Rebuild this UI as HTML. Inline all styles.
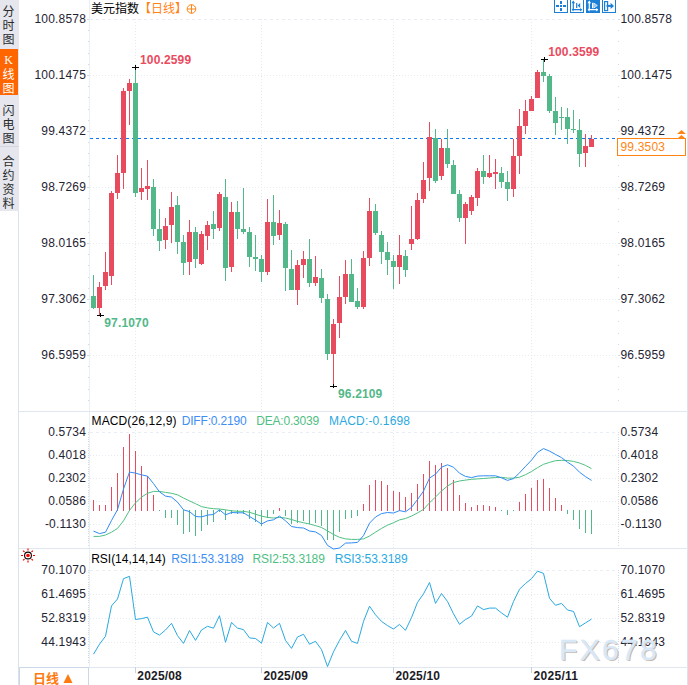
<!DOCTYPE html><html><head><meta charset="utf-8"><title>美元指数</title><style>
html,body{margin:0;padding:0;background:#fff}
body{width:688px;height:685px;overflow:hidden;position:relative;font-family:"Liberation Sans","Noto Sans CJK SC",sans-serif}
svg{position:absolute;left:0;top:0}
svg text{font-family:"Liberation Sans","Noto Sans CJK SC",sans-serif;font-size:12px}.ax{letter-spacing:0.18px}.bx{letter-spacing:0.15px}
.side{position:absolute;left:0;top:0;width:19px;height:211px;background:#e5e6ee}
.tab{position:absolute;left:0;width:17px;text-align:center;font-size:12px;line-height:14px;color:#2a2a2a;font-family:"Noto Sans CJK SC","Liberation Sans",sans-serif;font-weight:400}
.tab span{display:block}
</style></head><body>
<div class="side"></div>
<div class="tab" style="top:0;height:48px;padding-top:4px;box-sizing:border-box"><span>分</span><span>时</span><span>图</span></div>
<div class="tab" style="top:49px;height:46px;width:18px;background:#ff6600;color:#fff;padding-top:4px;padding-right:1px;box-sizing:border-box"><span style="font-family:'Liberation Serif',serif;font-size:12px">K</span><span>线</span><span>图</span></div>
<div class="tab" style="top:95px;height:52px;width:19px;padding-right:2px;padding-top:7.5px;box-sizing:border-box;border-bottom:1px solid #d4d6de"><span>闪</span><span>电</span><span>图</span></div>
<div class="tab" style="top:148px;height:63px;padding-top:6px;box-sizing:border-box"><span>合</span><span>约</span><span>资</span><span>料</span></div>
<svg width="688" height="685" viewBox="0 0 688 685">
<g shape-rendering="crispEdges">
<rect x="18" y="211" width="1" height="474" fill="#d9e2ed"/>
<rect x="687" y="0" width="1" height="685" fill="#d9e2ed"/>
<rect x="89" y="0" width="1" height="667" fill="#eaeef5"/>
<rect x="19" y="411" width="669" height="1" fill="#e0e7f0"/>
<rect x="19" y="548" width="669" height="1" fill="#e0e7f0"/>
<rect x="19" y="667" width="669" height="1" fill="#e0e7f0"/>
<rect x="19.5" y="667.5" width="69" height="20" fill="#fff" stroke="#c9d7e6"/>
<line x1="90" x2="617" y1="19.5" y2="19.5" stroke="#e9eef4" stroke-dasharray="3 3"/>
<line x1="90" x2="617" y1="75.5" y2="75.5" stroke="#e6ebf1" stroke-dasharray="1 2"/>
<line x1="90" x2="617" y1="131.5" y2="131.5" stroke="#e6ebf1" stroke-dasharray="1 2"/>
<line x1="90" x2="617" y1="187.5" y2="187.5" stroke="#e6ebf1" stroke-dasharray="1 2"/>
<line x1="90" x2="617" y1="243.5" y2="243.5" stroke="#e6ebf1" stroke-dasharray="1 2"/>
<line x1="90" x2="617" y1="299.5" y2="299.5" stroke="#e6ebf1" stroke-dasharray="1 2"/>
<line x1="90" x2="617" y1="355.5" y2="355.5" stroke="#e6ebf1" stroke-dasharray="1 2"/>
<line x1="90" x2="617" y1="432.5" y2="432.5" stroke="#e9eef4" stroke-dasharray="3 3"/>
<line x1="90" x2="617" y1="455.5" y2="455.5" stroke="#e6ebf1" stroke-dasharray="1 2"/>
<line x1="90" x2="617" y1="478.5" y2="478.5" stroke="#e6ebf1" stroke-dasharray="1 2"/>
<line x1="90" x2="617" y1="501.5" y2="501.5" stroke="#e6ebf1" stroke-dasharray="1 2"/>
<line x1="90" x2="617" y1="524.5" y2="524.5" stroke="#e6ebf1" stroke-dasharray="1 2"/>
<line x1="90" x2="617" y1="570.5" y2="570.5" stroke="#e9eef4" stroke-dasharray="3 3"/>
<line x1="90" x2="617" y1="594.5" y2="594.5" stroke="#e6ebf1" stroke-dasharray="1 2"/>
<line x1="90" x2="617" y1="618.5" y2="618.5" stroke="#e6ebf1" stroke-dasharray="1 2"/>
<line x1="90" x2="617" y1="642.5" y2="642.5" stroke="#e6ebf1" stroke-dasharray="1 2"/>
<line x1="135.5" x2="135.5" y1="19" y2="667" stroke="#e6ebf1" stroke-dasharray="1 2"/>
<rect x="135" y="667" width="1" height="6" fill="#c5d2e0"/>
<line x1="261.5" x2="261.5" y1="19" y2="667" stroke="#e6ebf1" stroke-dasharray="1 2"/>
<rect x="261" y="667" width="1" height="6" fill="#c5d2e0"/>
<line x1="393.5" x2="393.5" y1="19" y2="667" stroke="#e6ebf1" stroke-dasharray="1 2"/>
<rect x="393" y="667" width="1" height="6" fill="#c5d2e0"/>
<line x1="531.5" x2="531.5" y1="19" y2="667" stroke="#e6ebf1" stroke-dasharray="1 2"/>
<rect x="531" y="667" width="1" height="6" fill="#c5d2e0"/>
<rect x="88" y="19" width="1" height="1" fill="#d2d9e4"/>
<rect x="618" y="19" width="1" height="1" fill="#d2d9e4"/>
<rect x="88" y="30" width="1" height="1" fill="#d2d9e4"/>
<rect x="618" y="30" width="1" height="1" fill="#d2d9e4"/>
<rect x="88" y="41" width="1" height="1" fill="#d2d9e4"/>
<rect x="618" y="41" width="1" height="1" fill="#d2d9e4"/>
<rect x="88" y="53" width="1" height="1" fill="#d2d9e4"/>
<rect x="618" y="53" width="1" height="1" fill="#d2d9e4"/>
<rect x="88" y="64" width="1" height="1" fill="#d2d9e4"/>
<rect x="618" y="64" width="1" height="1" fill="#d2d9e4"/>
<rect x="88" y="75" width="1" height="1" fill="#d2d9e4"/>
<rect x="618" y="75" width="1" height="1" fill="#d2d9e4"/>
<rect x="88" y="86" width="1" height="1" fill="#d2d9e4"/>
<rect x="618" y="86" width="1" height="1" fill="#d2d9e4"/>
<rect x="88" y="97" width="1" height="1" fill="#d2d9e4"/>
<rect x="618" y="97" width="1" height="1" fill="#d2d9e4"/>
<rect x="88" y="109" width="1" height="1" fill="#d2d9e4"/>
<rect x="618" y="109" width="1" height="1" fill="#d2d9e4"/>
<rect x="88" y="120" width="1" height="1" fill="#d2d9e4"/>
<rect x="618" y="120" width="1" height="1" fill="#d2d9e4"/>
<rect x="88" y="131" width="1" height="1" fill="#d2d9e4"/>
<rect x="618" y="131" width="1" height="1" fill="#d2d9e4"/>
<rect x="88" y="142" width="1" height="1" fill="#d2d9e4"/>
<rect x="618" y="142" width="1" height="1" fill="#d2d9e4"/>
<rect x="88" y="153" width="1" height="1" fill="#d2d9e4"/>
<rect x="618" y="153" width="1" height="1" fill="#d2d9e4"/>
<rect x="88" y="165" width="1" height="1" fill="#d2d9e4"/>
<rect x="618" y="165" width="1" height="1" fill="#d2d9e4"/>
<rect x="88" y="176" width="1" height="1" fill="#d2d9e4"/>
<rect x="618" y="176" width="1" height="1" fill="#d2d9e4"/>
<rect x="88" y="187" width="1" height="1" fill="#d2d9e4"/>
<rect x="618" y="187" width="1" height="1" fill="#d2d9e4"/>
<rect x="88" y="198" width="1" height="1" fill="#d2d9e4"/>
<rect x="618" y="198" width="1" height="1" fill="#d2d9e4"/>
<rect x="88" y="209" width="1" height="1" fill="#d2d9e4"/>
<rect x="618" y="209" width="1" height="1" fill="#d2d9e4"/>
<rect x="88" y="221" width="1" height="1" fill="#d2d9e4"/>
<rect x="618" y="221" width="1" height="1" fill="#d2d9e4"/>
<rect x="88" y="232" width="1" height="1" fill="#d2d9e4"/>
<rect x="618" y="232" width="1" height="1" fill="#d2d9e4"/>
<rect x="88" y="243" width="1" height="1" fill="#d2d9e4"/>
<rect x="618" y="243" width="1" height="1" fill="#d2d9e4"/>
<rect x="88" y="254" width="1" height="1" fill="#d2d9e4"/>
<rect x="618" y="254" width="1" height="1" fill="#d2d9e4"/>
<rect x="88" y="265" width="1" height="1" fill="#d2d9e4"/>
<rect x="618" y="265" width="1" height="1" fill="#d2d9e4"/>
<rect x="88" y="277" width="1" height="1" fill="#d2d9e4"/>
<rect x="618" y="277" width="1" height="1" fill="#d2d9e4"/>
<rect x="88" y="288" width="1" height="1" fill="#d2d9e4"/>
<rect x="618" y="288" width="1" height="1" fill="#d2d9e4"/>
<rect x="88" y="299" width="1" height="1" fill="#d2d9e4"/>
<rect x="618" y="299" width="1" height="1" fill="#d2d9e4"/>
<rect x="88" y="310" width="1" height="1" fill="#d2d9e4"/>
<rect x="618" y="310" width="1" height="1" fill="#d2d9e4"/>
<rect x="88" y="321" width="1" height="1" fill="#d2d9e4"/>
<rect x="618" y="321" width="1" height="1" fill="#d2d9e4"/>
<rect x="88" y="333" width="1" height="1" fill="#d2d9e4"/>
<rect x="618" y="333" width="1" height="1" fill="#d2d9e4"/>
<rect x="88" y="344" width="1" height="1" fill="#d2d9e4"/>
<rect x="618" y="344" width="1" height="1" fill="#d2d9e4"/>
<rect x="88" y="355" width="1" height="1" fill="#d2d9e4"/>
<rect x="618" y="355" width="1" height="1" fill="#d2d9e4"/>
<rect x="88" y="366" width="1" height="1" fill="#d2d9e4"/>
<rect x="618" y="366" width="1" height="1" fill="#d2d9e4"/>
<rect x="88" y="377" width="1" height="1" fill="#d2d9e4"/>
<rect x="618" y="377" width="1" height="1" fill="#d2d9e4"/>
<rect x="88" y="389" width="1" height="1" fill="#d2d9e4"/>
<rect x="618" y="389" width="1" height="1" fill="#d2d9e4"/>
<rect x="88" y="400" width="1" height="1" fill="#d2d9e4"/>
<rect x="618" y="400" width="1" height="1" fill="#d2d9e4"/>
<rect x="87" y="19" width="2" height="1" fill="#d2d9e4"/>
<rect x="618" y="19" width="2" height="1" fill="#d2d9e4"/>
<rect x="87" y="75" width="2" height="1" fill="#d2d9e4"/>
<rect x="618" y="75" width="2" height="1" fill="#d2d9e4"/>
<rect x="87" y="131" width="2" height="1" fill="#d2d9e4"/>
<rect x="618" y="131" width="2" height="1" fill="#d2d9e4"/>
<rect x="87" y="187" width="2" height="1" fill="#d2d9e4"/>
<rect x="618" y="187" width="2" height="1" fill="#d2d9e4"/>
<rect x="87" y="243" width="2" height="1" fill="#d2d9e4"/>
<rect x="618" y="243" width="2" height="1" fill="#d2d9e4"/>
<rect x="87" y="299" width="2" height="1" fill="#d2d9e4"/>
<rect x="618" y="299" width="2" height="1" fill="#d2d9e4"/>
<rect x="87" y="355" width="2" height="1" fill="#d2d9e4"/>
<rect x="618" y="355" width="2" height="1" fill="#d2d9e4"/>
<line x1="88.5" x2="88.5" y1="432" y2="546" stroke="#d2d9e4" stroke-dasharray="1 1.3"/>
<line x1="618.5" x2="618.5" y1="432" y2="546" stroke="#d2d9e4" stroke-dasharray="1 1.3"/>
<line x1="88.5" x2="88.5" y1="570" y2="664" stroke="#d2d9e4" stroke-dasharray="1 1.3"/>
<line x1="618.5" x2="618.5" y1="570" y2="664" stroke="#d2d9e4" stroke-dasharray="1 1.3"/>
</g>
<line x1="90" x2="616" y1="138.5" y2="138.5" stroke="#0e79f2" stroke-dasharray="3 3" shape-rendering="crispEdges"/>
<g shape-rendering="crispEdges">
<rect x="93" y="275" width="1" height="34" fill="#53b889"/>
<rect x="91" y="296" width="5" height="12" fill="#53b889"/>
<rect x="99" y="282" width="1" height="34" fill="#e94b5e"/>
<rect x="97" y="287" width="5" height="21" fill="#e94b5e"/>
<rect x="105" y="252" width="1" height="38" fill="#e94b5e"/>
<rect x="103" y="272" width="5" height="14" fill="#e94b5e"/>
<rect x="111" y="191" width="1" height="94" fill="#e94b5e"/>
<rect x="109" y="193" width="5" height="83" fill="#e94b5e"/>
<rect x="117" y="155" width="1" height="44" fill="#e94b5e"/>
<rect x="115" y="173" width="5" height="20" fill="#e94b5e"/>
<rect x="123" y="88" width="1" height="101" fill="#e94b5e"/>
<rect x="121" y="91" width="5" height="82" fill="#e94b5e"/>
<rect x="129" y="79" width="1" height="46" fill="#e94b5e"/>
<rect x="127" y="83" width="5" height="8" fill="#e94b5e"/>
<rect x="135" y="67" width="1" height="130" fill="#53b889"/>
<rect x="133" y="83" width="5" height="110" fill="#53b889"/>
<rect x="141" y="168" width="1" height="32" fill="#e94b5e"/>
<rect x="139" y="188" width="5" height="4" fill="#e94b5e"/>
<rect x="147" y="160" width="1" height="40" fill="#e94b5e"/>
<rect x="145" y="186" width="5" height="3" fill="#e94b5e"/>
<rect x="153" y="179" width="1" height="57" fill="#53b889"/>
<rect x="151" y="187" width="5" height="42" fill="#53b889"/>
<rect x="159" y="209" width="1" height="42" fill="#53b889"/>
<rect x="157" y="229" width="5" height="12" fill="#53b889"/>
<rect x="165" y="218" width="1" height="31" fill="#e94b5e"/>
<rect x="163" y="226" width="5" height="14" fill="#e94b5e"/>
<rect x="171" y="192" width="1" height="51" fill="#e94b5e"/>
<rect x="169" y="207" width="5" height="18" fill="#e94b5e"/>
<rect x="177" y="196" width="1" height="58" fill="#53b889"/>
<rect x="175" y="205" width="5" height="37" fill="#53b889"/>
<rect x="183" y="235" width="1" height="40" fill="#53b889"/>
<rect x="181" y="242" width="5" height="21" fill="#53b889"/>
<rect x="189" y="220" width="1" height="55" fill="#e94b5e"/>
<rect x="187" y="232" width="5" height="30" fill="#e94b5e"/>
<rect x="195" y="227" width="1" height="41" fill="#53b889"/>
<rect x="193" y="232" width="5" height="27" fill="#53b889"/>
<rect x="201" y="231" width="1" height="34" fill="#e94b5e"/>
<rect x="199" y="234" width="5" height="30" fill="#e94b5e"/>
<rect x="207" y="221" width="1" height="29" fill="#e94b5e"/>
<rect x="205" y="225" width="5" height="11" fill="#e94b5e"/>
<rect x="213" y="211" width="1" height="28" fill="#53b889"/>
<rect x="211" y="224" width="5" height="5" fill="#53b889"/>
<rect x="219" y="192" width="1" height="39" fill="#e94b5e"/>
<rect x="217" y="194" width="5" height="34" fill="#e94b5e"/>
<rect x="225" y="179" width="1" height="102" fill="#53b889"/>
<rect x="223" y="197" width="5" height="71" fill="#53b889"/>
<rect x="231" y="202" width="1" height="70" fill="#e94b5e"/>
<rect x="229" y="212" width="5" height="55" fill="#e94b5e"/>
<rect x="237" y="201" width="1" height="38" fill="#53b889"/>
<rect x="235" y="212" width="5" height="17" fill="#53b889"/>
<rect x="243" y="188" width="1" height="46" fill="#53b889"/>
<rect x="241" y="229" width="5" height="3" fill="#53b889"/>
<rect x="249" y="227" width="1" height="40" fill="#53b889"/>
<rect x="247" y="232" width="5" height="25" fill="#53b889"/>
<rect x="255" y="235" width="1" height="36" fill="#53b889"/>
<rect x="253" y="257" width="5" height="2" fill="#53b889"/>
<rect x="261" y="255" width="1" height="27" fill="#53b889"/>
<rect x="259" y="259" width="5" height="13" fill="#53b889"/>
<rect x="267" y="199" width="1" height="76" fill="#e94b5e"/>
<rect x="265" y="222" width="5" height="50" fill="#e94b5e"/>
<rect x="273" y="195" width="1" height="50" fill="#53b889"/>
<rect x="271" y="222" width="5" height="14" fill="#53b889"/>
<rect x="279" y="210" width="1" height="30" fill="#e94b5e"/>
<rect x="277" y="223" width="5" height="12" fill="#e94b5e"/>
<rect x="285" y="222" width="1" height="69" fill="#53b889"/>
<rect x="283" y="224" width="5" height="44" fill="#53b889"/>
<rect x="291" y="250" width="1" height="40" fill="#53b889"/>
<rect x="289" y="269" width="5" height="21" fill="#53b889"/>
<rect x="297" y="260" width="1" height="45" fill="#e94b5e"/>
<rect x="295" y="265" width="5" height="25" fill="#e94b5e"/>
<rect x="303" y="251" width="1" height="27" fill="#e94b5e"/>
<rect x="301" y="259" width="5" height="6" fill="#e94b5e"/>
<rect x="309" y="239" width="1" height="48" fill="#53b889"/>
<rect x="307" y="259" width="5" height="24" fill="#53b889"/>
<rect x="315" y="256" width="1" height="30" fill="#e94b5e"/>
<rect x="313" y="277" width="5" height="6" fill="#e94b5e"/>
<rect x="321" y="269" width="1" height="34" fill="#53b889"/>
<rect x="319" y="278" width="5" height="20" fill="#53b889"/>
<rect x="327" y="294" width="1" height="66" fill="#53b889"/>
<rect x="325" y="299" width="5" height="55" fill="#53b889"/>
<rect x="333" y="319" width="1" height="67" fill="#e94b5e"/>
<rect x="331" y="324" width="5" height="30" fill="#e94b5e"/>
<rect x="339" y="276" width="1" height="62" fill="#e94b5e"/>
<rect x="337" y="297" width="5" height="26" fill="#e94b5e"/>
<rect x="345" y="260" width="1" height="44" fill="#e94b5e"/>
<rect x="343" y="274" width="5" height="23" fill="#e94b5e"/>
<rect x="351" y="259" width="1" height="43" fill="#53b889"/>
<rect x="349" y="274" width="5" height="28" fill="#53b889"/>
<rect x="357" y="288" width="1" height="21" fill="#53b889"/>
<rect x="355" y="301" width="5" height="6" fill="#53b889"/>
<rect x="363" y="251" width="1" height="58" fill="#e94b5e"/>
<rect x="361" y="258" width="5" height="49" fill="#e94b5e"/>
<rect x="369" y="198" width="1" height="68" fill="#e94b5e"/>
<rect x="367" y="211" width="5" height="47" fill="#e94b5e"/>
<rect x="375" y="204" width="1" height="31" fill="#53b889"/>
<rect x="373" y="211" width="5" height="22" fill="#53b889"/>
<rect x="381" y="231" width="1" height="33" fill="#53b889"/>
<rect x="379" y="235" width="5" height="17" fill="#53b889"/>
<rect x="387" y="242" width="1" height="33" fill="#53b889"/>
<rect x="385" y="252" width="5" height="8" fill="#53b889"/>
<rect x="393" y="255" width="1" height="34" fill="#53b889"/>
<rect x="391" y="261" width="5" height="6" fill="#53b889"/>
<rect x="399" y="235" width="1" height="49" fill="#e94b5e"/>
<rect x="397" y="255" width="5" height="12" fill="#e94b5e"/>
<rect x="405" y="250" width="1" height="27" fill="#53b889"/>
<rect x="403" y="256" width="5" height="14" fill="#53b889"/>
<rect x="411" y="206" width="1" height="44" fill="#e94b5e"/>
<rect x="409" y="239" width="5" height="5" fill="#e94b5e"/>
<rect x="417" y="193" width="1" height="47" fill="#e94b5e"/>
<rect x="415" y="200" width="5" height="39" fill="#e94b5e"/>
<rect x="423" y="162" width="1" height="41" fill="#e94b5e"/>
<rect x="421" y="180" width="5" height="19" fill="#e94b5e"/>
<rect x="429" y="122" width="1" height="69" fill="#e94b5e"/>
<rect x="427" y="137" width="5" height="41" fill="#e94b5e"/>
<rect x="435" y="129" width="1" height="54" fill="#53b889"/>
<rect x="433" y="138" width="5" height="43" fill="#53b889"/>
<rect x="441" y="139" width="1" height="41" fill="#e94b5e"/>
<rect x="439" y="148" width="5" height="28" fill="#e94b5e"/>
<rect x="447" y="129" width="1" height="39" fill="#53b889"/>
<rect x="445" y="148" width="5" height="16" fill="#53b889"/>
<rect x="453" y="160" width="1" height="34" fill="#53b889"/>
<rect x="451" y="165" width="5" height="29" fill="#53b889"/>
<rect x="459" y="190" width="1" height="32" fill="#53b889"/>
<rect x="457" y="194" width="5" height="24" fill="#53b889"/>
<rect x="465" y="202" width="1" height="42" fill="#e94b5e"/>
<rect x="463" y="204" width="5" height="14" fill="#e94b5e"/>
<rect x="471" y="195" width="1" height="20" fill="#e94b5e"/>
<rect x="469" y="197" width="5" height="14" fill="#e94b5e"/>
<rect x="477" y="168" width="1" height="38" fill="#e94b5e"/>
<rect x="475" y="171" width="5" height="27" fill="#e94b5e"/>
<rect x="483" y="155" width="1" height="29" fill="#53b889"/>
<rect x="481" y="171" width="5" height="6" fill="#53b889"/>
<rect x="489" y="155" width="1" height="23" fill="#e94b5e"/>
<rect x="487" y="173" width="5" height="4" fill="#e94b5e"/>
<rect x="495" y="159" width="1" height="30" fill="#e94b5e"/>
<rect x="493" y="172" width="5" height="2" fill="#e94b5e"/>
<rect x="501" y="167" width="1" height="21" fill="#53b889"/>
<rect x="499" y="173" width="5" height="9" fill="#53b889"/>
<rect x="507" y="171" width="1" height="30" fill="#53b889"/>
<rect x="505" y="182" width="5" height="7" fill="#53b889"/>
<rect x="513" y="139" width="1" height="58" fill="#e94b5e"/>
<rect x="511" y="156" width="5" height="33" fill="#e94b5e"/>
<rect x="519" y="109" width="1" height="65" fill="#e94b5e"/>
<rect x="517" y="126" width="5" height="30" fill="#e94b5e"/>
<rect x="525" y="100" width="1" height="34" fill="#e94b5e"/>
<rect x="523" y="111" width="5" height="15" fill="#e94b5e"/>
<rect x="531" y="96" width="1" height="15" fill="#e94b5e"/>
<rect x="529" y="99" width="5" height="12" fill="#e94b5e"/>
<rect x="537" y="70" width="1" height="28" fill="#e94b5e"/>
<rect x="535" y="72" width="5" height="26" fill="#e94b5e"/>
<rect x="543" y="59" width="1" height="23" fill="#53b889"/>
<rect x="541" y="72" width="5" height="4" fill="#53b889"/>
<rect x="549" y="74" width="1" height="39" fill="#53b889"/>
<rect x="547" y="76" width="5" height="35" fill="#53b889"/>
<rect x="555" y="97" width="1" height="38" fill="#53b889"/>
<rect x="553" y="111" width="5" height="12" fill="#53b889"/>
<rect x="561" y="107" width="1" height="23" fill="#53b889"/>
<rect x="559" y="117" width="5" height="1" fill="#53b889"/>
<rect x="567" y="108" width="1" height="36" fill="#53b889"/>
<rect x="565" y="117" width="5" height="12" fill="#53b889"/>
<rect x="573" y="110" width="1" height="23" fill="#53b889"/>
<rect x="571" y="129" width="5" height="1" fill="#53b889"/>
<rect x="579" y="119" width="1" height="48" fill="#53b889"/>
<rect x="577" y="130" width="5" height="24" fill="#53b889"/>
<rect x="585" y="134" width="1" height="33" fill="#e94b5e"/>
<rect x="583" y="146" width="5" height="7" fill="#e94b5e"/>
<rect x="591" y="135" width="1" height="12" fill="#e94b5e"/>
<rect x="589" y="139" width="5" height="8" fill="#e94b5e"/>
</g>
<g shape-rendering="crispEdges">
<rect x="93" y="500" width="1" height="11" fill="#e94b5e"/>
<rect x="99" y="505" width="1" height="6" fill="#e94b5e"/>
<rect x="105" y="505" width="1" height="6" fill="#e94b5e"/>
<rect x="111" y="487" width="1" height="24" fill="#e94b5e"/>
<rect x="117" y="473" width="1" height="38" fill="#e94b5e"/>
<rect x="123" y="447" width="1" height="64" fill="#e94b5e"/>
<rect x="129" y="434" width="1" height="77" fill="#e94b5e"/>
<rect x="135" y="451" width="1" height="60" fill="#e94b5e"/>
<rect x="141" y="466" width="1" height="45" fill="#e94b5e"/>
<rect x="147" y="476" width="1" height="35" fill="#e94b5e"/>
<rect x="153" y="495" width="1" height="16" fill="#e94b5e"/>
<rect x="159" y="510" width="1" height="1" fill="#53b889"/>
<rect x="165" y="510" width="1" height="8" fill="#53b889"/>
<rect x="171" y="510" width="1" height="8" fill="#53b889"/>
<rect x="177" y="510" width="1" height="15" fill="#53b889"/>
<rect x="183" y="510" width="1" height="24" fill="#53b889"/>
<rect x="189" y="510" width="1" height="22" fill="#53b889"/>
<rect x="195" y="510" width="1" height="26" fill="#53b889"/>
<rect x="201" y="510" width="1" height="21" fill="#53b889"/>
<rect x="207" y="510" width="1" height="15" fill="#53b889"/>
<rect x="213" y="510" width="1" height="12" fill="#53b889"/>
<rect x="219" y="510" width="1" height="2" fill="#53b889"/>
<rect x="225" y="510" width="1" height="10" fill="#53b889"/>
<rect x="231" y="510" width="1" height="4" fill="#53b889"/>
<rect x="237" y="510" width="1" height="4" fill="#53b889"/>
<rect x="243" y="510" width="1" height="4" fill="#53b889"/>
<rect x="249" y="510" width="1" height="9" fill="#53b889"/>
<rect x="255" y="510" width="1" height="12" fill="#53b889"/>
<rect x="261" y="510" width="1" height="16" fill="#53b889"/>
<rect x="267" y="510" width="1" height="8" fill="#53b889"/>
<rect x="273" y="510" width="1" height="4" fill="#53b889"/>
<rect x="279" y="508" width="1" height="3" fill="#e94b5e"/>
<rect x="285" y="510" width="1" height="6" fill="#53b889"/>
<rect x="291" y="510" width="1" height="14" fill="#53b889"/>
<rect x="297" y="510" width="1" height="13" fill="#53b889"/>
<rect x="303" y="510" width="1" height="11" fill="#53b889"/>
<rect x="309" y="510" width="1" height="14" fill="#53b889"/>
<rect x="315" y="510" width="1" height="13" fill="#53b889"/>
<rect x="321" y="510" width="1" height="16" fill="#53b889"/>
<rect x="327" y="510" width="1" height="30" fill="#53b889"/>
<rect x="333" y="510" width="1" height="30" fill="#53b889"/>
<rect x="339" y="510" width="1" height="22" fill="#53b889"/>
<rect x="345" y="510" width="1" height="9" fill="#53b889"/>
<rect x="351" y="510" width="1" height="8" fill="#53b889"/>
<rect x="357" y="510" width="1" height="6" fill="#53b889"/>
<rect x="363" y="504" width="1" height="7" fill="#e94b5e"/>
<rect x="369" y="485" width="1" height="26" fill="#e94b5e"/>
<rect x="375" y="480" width="1" height="31" fill="#e94b5e"/>
<rect x="381" y="481" width="1" height="30" fill="#e94b5e"/>
<rect x="387" y="485" width="1" height="26" fill="#e94b5e"/>
<rect x="393" y="491" width="1" height="20" fill="#e94b5e"/>
<rect x="399" y="492" width="1" height="19" fill="#e94b5e"/>
<rect x="405" y="497" width="1" height="14" fill="#e94b5e"/>
<rect x="411" y="493" width="1" height="18" fill="#e94b5e"/>
<rect x="417" y="484" width="1" height="27" fill="#e94b5e"/>
<rect x="423" y="474" width="1" height="37" fill="#e94b5e"/>
<rect x="429" y="461" width="1" height="50" fill="#e94b5e"/>
<rect x="435" y="465" width="1" height="46" fill="#e94b5e"/>
<rect x="441" y="463" width="1" height="48" fill="#e94b5e"/>
<rect x="447" y="468" width="1" height="43" fill="#e94b5e"/>
<rect x="453" y="480" width="1" height="31" fill="#e94b5e"/>
<rect x="459" y="495" width="1" height="16" fill="#e94b5e"/>
<rect x="465" y="503" width="1" height="8" fill="#e94b5e"/>
<rect x="471" y="507" width="1" height="4" fill="#e94b5e"/>
<rect x="477" y="505" width="1" height="6" fill="#e94b5e"/>
<rect x="483" y="505" width="1" height="6" fill="#e94b5e"/>
<rect x="489" y="506" width="1" height="5" fill="#e94b5e"/>
<rect x="495" y="507" width="1" height="4" fill="#e94b5e"/>
<rect x="501" y="510" width="1" height="1" fill="#53b889"/>
<rect x="507" y="510" width="1" height="5" fill="#53b889"/>
<rect x="513" y="510" width="1" height="1" fill="#53b889"/>
<rect x="519" y="502" width="1" height="9" fill="#e94b5e"/>
<rect x="525" y="494" width="1" height="17" fill="#e94b5e"/>
<rect x="531" y="488" width="1" height="23" fill="#e94b5e"/>
<rect x="537" y="480" width="1" height="31" fill="#e94b5e"/>
<rect x="543" y="479" width="1" height="32" fill="#e94b5e"/>
<rect x="549" y="488" width="1" height="23" fill="#e94b5e"/>
<rect x="555" y="498" width="1" height="13" fill="#e94b5e"/>
<rect x="561" y="505" width="1" height="6" fill="#e94b5e"/>
<rect x="567" y="510" width="1" height="4" fill="#53b889"/>
<rect x="573" y="510" width="1" height="10" fill="#53b889"/>
<rect x="579" y="510" width="1" height="19" fill="#53b889"/>
<rect x="585" y="510" width="1" height="23" fill="#53b889"/>
<rect x="591" y="510" width="1" height="24" fill="#53b889"/>
</g>
<polyline points="93.5,536.4 99.5,536.4 105.5,535.0 111.5,532.2 117.5,528.4 123.5,520.8 129.5,510.4 135.5,502.8 141.5,497.1 147.5,493.3 153.5,491.4 159.5,491.4 165.5,492.4 171.5,493.3 177.5,494.8 183.5,498.0 189.5,500.9 195.5,503.7 201.5,506.6 207.5,507.9 213.5,508.7 219.5,509.0 225.5,509.8 231.5,510.8 237.5,511.3 243.5,511.3 249.5,512.3 255.5,514.2 261.5,516.1 267.5,517.4 273.5,518.0 279.5,517.4 285.5,518.0 291.5,519.5 297.5,521.4 303.5,522.7 309.5,524.0 315.5,525.6 321.5,527.5 327.5,530.9 333.5,534.5 339.5,537.3 345.5,538.9 351.5,539.4 357.5,539.4 363.5,538.9 369.5,536.0 375.5,532.2 381.5,528.4 387.5,525.2 393.5,522.7 399.5,519.9 405.5,518.5 411.5,516.1 417.5,512.9 423.5,509.4 429.5,502.8 435.5,497.0 441.5,491.0 447.5,486.0 453.5,482.5 459.5,481.0 465.5,480.1 471.5,479.3 477.5,478.9 483.5,478.5 489.5,478.0 495.5,477.5 501.5,477.3 507.5,478.1 513.5,478.1 519.5,477.2 525.5,474.7 531.5,471.5 537.5,467.7 543.5,464.3 549.5,462.4 555.5,460.7 561.5,460.3 567.5,460.5 573.5,461.4 579.5,463.0 585.5,465.4 591.5,468.6" fill="none" stroke="#4fc083" stroke-width="1" stroke-linejoin="round"/>
<polyline points="93.5,531.1 99.5,533.6 105.5,532.2 111.5,520.5 117.5,509.6 123.5,489.0 129.5,472.1 135.5,473.1 141.5,474.9 147.5,476.1 153.5,483.6 159.5,491.9 165.5,496.1 171.5,497.1 177.5,502.1 183.5,509.8 189.5,511.6 195.5,516.5 201.5,516.9 207.5,515.1 213.5,514.5 219.5,509.8 225.5,514.8 231.5,512.5 237.5,512.8 243.5,512.8 249.5,516.5 255.5,520.0 261.5,524.1 267.5,520.9 273.5,519.8 279.5,516.1 285.5,520.8 291.5,526.5 297.5,527.6 303.5,528.0 309.5,531.0 315.5,531.9 321.5,535.5 327.5,545.4 333.5,549.0 339.5,548.0 345.5,543.1 351.5,542.9 357.5,542.4 363.5,535.6 369.5,523.2 375.5,517.0 381.5,513.6 387.5,512.5 393.5,513.0 399.5,510.6 405.5,511.8 411.5,507.4 417.5,499.6 423.5,491.1 429.5,478.1 435.5,474.2 441.5,467.2 447.5,464.8 453.5,467.2 459.5,473.2 465.5,476.4 471.5,477.6 477.5,476.1 483.5,475.8 489.5,475.8 495.5,475.8 501.5,477.8 507.5,480.4 513.5,478.6 519.5,472.9 525.5,466.4 531.5,460.2 537.5,452.4 543.5,448.6 549.5,451.1 555.5,454.4 561.5,457.6 567.5,462.2 573.5,466.1 579.5,472.2 585.5,476.6 591.5,480.4" fill="none" stroke="#2f8cf5" stroke-width="1" stroke-linejoin="round"/>
<polyline points="93.5,654.2 99.5,644.2 105.5,636.2 111.5,605.9 117.5,599.0 123.5,578.7 129.5,576.3 135.5,619.5 141.5,618.6 147.5,617.2 153.5,631.9 159.5,635.1 165.5,630.0 171.5,623.3 177.5,635.6 183.5,643.4 189.5,630.5 195.5,640.4 201.5,630.0 207.5,626.3 213.5,628.2 219.5,615.7 225.5,642.3 231.5,622.4 237.5,628.1 243.5,629.6 249.5,637.9 255.5,638.5 261.5,643.2 267.5,622.4 273.5,628.1 279.5,623.3 285.5,640.4 291.5,648.4 297.5,637.0 303.5,634.3 309.5,644.2 315.5,641.3 321.5,649.5 327.5,666.6 333.5,651.8 339.5,640.4 345.5,630.5 351.5,641.3 357.5,643.4 363.5,621.4 369.5,606.2 375.5,614.8 381.5,621.4 387.5,625.6 393.5,629.0 399.5,624.4 405.5,630.3 411.5,617.6 417.5,602.4 423.5,593.9 429.5,582.5 435.5,603.4 441.5,593.5 447.5,601.5 453.5,613.8 459.5,624.4 465.5,619.5 471.5,616.1 477.5,605.9 483.5,609.6 489.5,608.1 495.5,608.1 501.5,612.9 507.5,617.2 513.5,601.5 519.5,589.2 525.5,583.5 531.5,578.7 537.5,571.1 543.5,573.4 549.5,598.3 555.5,605.3 561.5,603.4 567.5,610.0 573.5,611.4 579.5,626.7 585.5,622.9 591.5,619.1" fill="none" stroke="#2aa9e0" stroke-width="1" stroke-linejoin="round"/>
<g shape-rendering="crispEdges"><rect x="132" y="67" width="7" height="1" fill="#000"/><rect x="135" y="65" width="1" height="5" fill="#000"/></g>
<g shape-rendering="crispEdges"><rect x="541" y="59" width="7" height="1" fill="#000"/><rect x="544" y="57" width="1" height="5" fill="#000"/></g>
<g shape-rendering="crispEdges"><rect x="97" y="315" width="7" height="1" fill="#000"/><rect x="100" y="313" width="1" height="4" fill="#000"/></g>
<g shape-rendering="crispEdges"><rect x="330" y="386" width="7" height="1" fill="#000"/><rect x="333" y="384" width="1" height="4" fill="#000"/></g>
<text x="140" y="64.3" font-weight="bold" class="bx" fill="#e94b5e">100.2599</text>
<text x="548.2" y="56.2" font-weight="bold" class="bx" fill="#e94b5e">100.3599</text>
<text x="104.3" y="327" font-weight="bold" class="bx" fill="#53b889">97.1070</text>
<text x="338" y="398" font-weight="bold" class="bx" fill="#53b889">96.2109</text>
<text x="86" y="23" text-anchor="end" class="ax" fill="#1f2433">100.8578</text>
<text x="620.5" y="23" class="ax" fill="#1f2433">100.8578</text>
<text x="86" y="79" text-anchor="end" class="ax" fill="#1f2433">100.1475</text>
<text x="620.5" y="79" class="ax" fill="#1f2433">100.1475</text>
<text x="86" y="135" text-anchor="end" class="ax" fill="#1f2433">99.4372</text>
<text x="620.5" y="135" class="ax" fill="#1f2433">99.4372</text>
<text x="86" y="191" text-anchor="end" class="ax" fill="#1f2433">98.7269</text>
<text x="620.5" y="191" class="ax" fill="#1f2433">98.7269</text>
<text x="86" y="247" text-anchor="end" class="ax" fill="#1f2433">98.0165</text>
<text x="620.5" y="247" class="ax" fill="#1f2433">98.0165</text>
<text x="86" y="303" text-anchor="end" class="ax" fill="#1f2433">97.3062</text>
<text x="620.5" y="303" class="ax" fill="#1f2433">97.3062</text>
<text x="86" y="359" text-anchor="end" class="ax" fill="#1f2433">96.5959</text>
<text x="620.5" y="359" class="ax" fill="#1f2433">96.5959</text>
<text x="86" y="436.3" text-anchor="end" class="ax" fill="#1f2433">0.5734</text>
<text x="620.5" y="436.3" class="ax" fill="#1f2433">0.5734</text>
<text x="86" y="459.3" text-anchor="end" class="ax" fill="#1f2433">0.4018</text>
<text x="620.5" y="459.3" class="ax" fill="#1f2433">0.4018</text>
<text x="86" y="482.3" text-anchor="end" class="ax" fill="#1f2433">0.2302</text>
<text x="620.5" y="482.3" class="ax" fill="#1f2433">0.2302</text>
<text x="86" y="505.3" text-anchor="end" class="ax" fill="#1f2433">0.0586</text>
<text x="620.5" y="505.3" class="ax" fill="#1f2433">0.0586</text>
<text x="86" y="528.3" text-anchor="end" class="ax" fill="#1f2433">-0.1130</text>
<text x="620.5" y="528.3" class="ax" fill="#1f2433">-0.1130</text>
<text x="86" y="573.9" text-anchor="end" class="ax" fill="#1f2433">70.1070</text>
<text x="620.5" y="573.9" class="ax" fill="#1f2433">70.1070</text>
<text x="86" y="598.0999999999999" text-anchor="end" class="ax" fill="#1f2433">61.4695</text>
<text x="620.5" y="598.0999999999999" class="ax" fill="#1f2433">61.4695</text>
<text x="86" y="622.0" text-anchor="end" class="ax" fill="#1f2433">52.8319</text>
<text x="620.5" y="622.0" class="ax" fill="#1f2433">52.8319</text>
<text x="86" y="646.0999999999999" text-anchor="end" class="ax" fill="#1f2433">44.1943</text>
<text x="620.5" y="646.0999999999999" class="ax" fill="#1f2433">44.1943</text>
<rect x="617.5" y="138.5" width="68" height="17" fill="#fff" stroke="#ff8413" shape-rendering="crispEdges"/>
<text x="620.5" y="151" class="ax" fill="#ff8413">99.3503</text>
<path d="M677 134 L681.5 130 L686 134 Z M677.5 138.5 L681.5 135 L685.5 138.5 Z" fill="#ff8413"/>
<text x="91" y="12.5" fill="#000">美元指数<tspan fill="#ff8413">【日线】</tspan></text>
<g stroke="#ff8413" fill="none" stroke-width="1"><circle cx="191.5" cy="9" r="4.3"/><path d="M187.2 9 H195.8 M191.5 4.7 V13.3"/></g>
<text y="425" fill="#000"><tspan x="91.5" textLength="85">MACD(26,12,9)</tspan><tspan x="181.7" fill="#3d8ef5" textLength="65">DIFF:0.2190</tspan><tspan x="256.2" fill="#4fc083" textLength="63">DEA:0.3039</tspan><tspan x="329" fill="#2aa9e0" textLength="81">MACD:-0.1698</tspan></text>
<text y="562.5" fill="#000"><tspan x="91.2" textLength="74.5">RSI(14,14,14)</tspan><tspan x="171.2" fill="#3d8ef5" textLength="72.5">RSI1:53.3189</tspan><tspan x="252.4" fill="#4fc083" textLength="72.5">RSI2:53.3189</tspan><tspan x="334.7" fill="#2aa9e0" textLength="73">RSI3:53.3189</tspan></text>
<text x="137.3" y="680" font-weight="bold" fill="#1b1b26" textLength="44.5">2025/08</text>
<text x="263.5" y="680" font-weight="bold" fill="#1b1b26" textLength="44.5">2025/09</text>
<text x="395.5" y="680" font-weight="bold" fill="#1b1b26" textLength="44.5">2025/10</text>
<text x="533.5" y="680" font-weight="bold" fill="#1b1b26" textLength="44.5">2025/11</text>
<text x="33" y="683" font-weight="bold" fill="#ff7a0f" style="font-size:13px">日线</text>
<path d="M63.5 683 L68 674 L72.5 683 Z" fill="#ff7a0f"/>
<g><circle cx="28" cy="555.5" r="3.4" fill="#fff" stroke="#000" stroke-width="1.1"/><circle cx="28" cy="555.5" r="1.8" fill="#f00"/>
<line x1="33.0" y1="555.5" x2="35.0" y2="555.5" stroke="#f00" stroke-width="1.2"/>
<line x1="31.5" y1="559.0" x2="32.9" y2="560.4" stroke="#f00" stroke-width="1.2"/>
<line x1="28.0" y1="560.5" x2="28.0" y2="562.5" stroke="#f00" stroke-width="1.2"/>
<line x1="24.5" y1="559.0" x2="23.1" y2="560.4" stroke="#f00" stroke-width="1.2"/>
<line x1="23.0" y1="555.5" x2="21.0" y2="555.5" stroke="#f00" stroke-width="1.2"/>
<line x1="24.5" y1="552.0" x2="23.1" y2="550.6" stroke="#f00" stroke-width="1.2"/>
<line x1="28.0" y1="550.5" x2="28.0" y2="548.5" stroke="#f00" stroke-width="1.2"/>
<line x1="31.5" y1="552.0" x2="32.9" y2="550.6" stroke="#f00" stroke-width="1.2"/>
</g>
<rect x="554.5" y="-0.5" width="13" height="13" fill="#fff" stroke="#1c7fd6" shape-rendering="crispEdges"/>
<rect x="570.5" y="-0.5" width="13" height="13" fill="#fff" stroke="#1c7fd6" shape-rendering="crispEdges"/>
<rect x="586.5" y="-0.5" width="13" height="13" fill="#1c7fd6" stroke="#1c7fd6" shape-rendering="crispEdges"/>
<rect x="602.5" y="-0.5" width="13" height="13" fill="#fff" stroke="#1c7fd6" shape-rendering="crispEdges"/>
<g fill="#1c7fd6" shape-rendering="crispEdges"><rect x="556" y="5" width="3" height="2"/><rect x="563" y="5" width="3" height="2"/><rect x="560" y="1" width="2" height="3"/><rect x="560" y="8" width="2" height="3"/><rect x="560" y="5" width="2" height="2"/></g>
<g stroke="#1c7fd6" fill="#1c7fd6" stroke-width="1.2"><path d="M573.3 1.5 V10 M572.5 9.7 H581.5" fill="none"/><path d="M571.5 3.2 L573.3 0.6 L575.1 3.2 Z M573.6 8 L571.6 9.7 L573.6 11.4 Z M580.2 8 L582.3 9.7 L580.2 11.4 Z" stroke="none"/></g>
<g fill="#1c7fd6"><rect x="576.1" y="3" width="1.2" height="5"/><path d="M580.2 3 V8 L577.6 5.5 Z"/></g>
<g stroke="#fff" fill="#fff" stroke-width="1.2"><path d="M589.3 1.5 V10 M588.5 9.7 H597.5" fill="none"/><path d="M587.5 3.2 L589.3 0.6 L591.1 3.2 Z M589.6 8 L587.6 9.7 L589.6 11.4 Z M596.2 8 L598.3 9.7 L596.2 11.4 Z" stroke="none"/></g>
<g><rect x="592" y="2.8" width="1.2" height="5.4" fill="#fff"/><path d="M593.8 3 V8 L597.3 5.5 Z" fill="#86c1f0" stroke="#fff" stroke-width="0.7"/></g>
<g fill="none" stroke="#1c7fd6"><rect x="604.6" y="1.6" width="3" height="9" stroke-width="1.2"/><path d="M606.5 5.9 H612" stroke-width="2"/></g><path d="M610.6 2.8 L614 5.9 L610.6 9 Z" fill="#1c7fd6"/>
<g letter-spacing="2.3"><text x="560.3" y="661.3" fill="#b9a090" opacity="0.75" style="font-size:30px">FX678</text><text x="559" y="660" fill="#d9e8f7" stroke="#d9e8f7" stroke-width="0.5" style="font-size:30px">FX678</text></g>
</svg></body></html>
